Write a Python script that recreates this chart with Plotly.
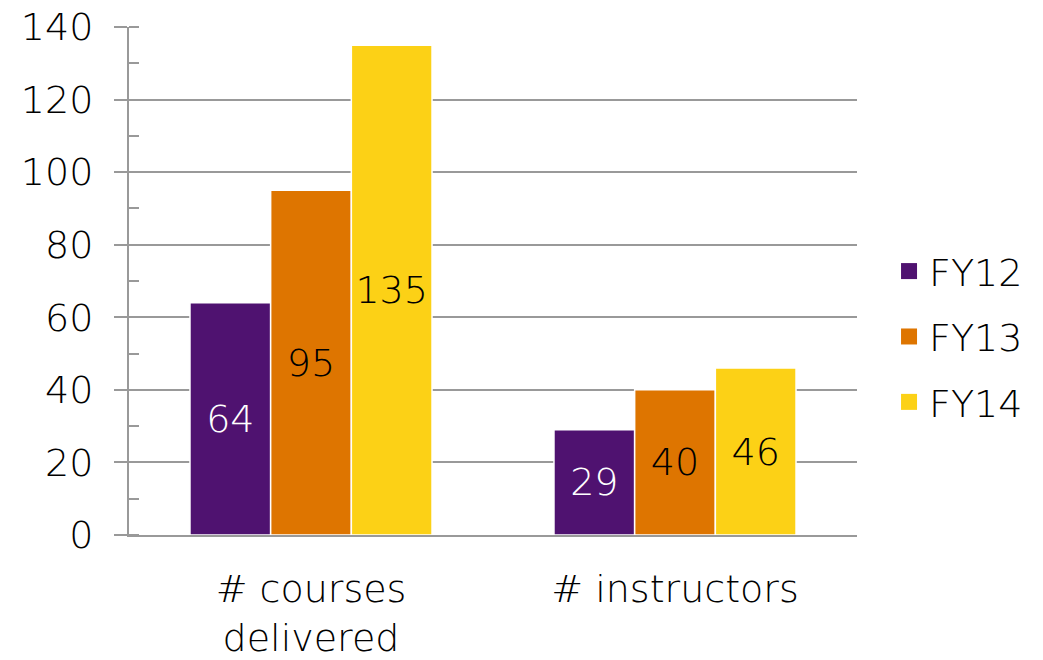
import plotly.graph_objects as go

categories = ["# courses<br>delivered", "# instructors"]
series_names = ["FY12", "FY13", "FY14"]
fy12 = [64, 29]
fy13 = [95, 40]
fy14 = [135, 46]
colors = ["#4F1270", "#DE7500", "#FCD116"]
text_colors = ["white", "black", "black"]

FONT = "DejaVu Sans"
FW = 200
FS = 38
fig = go.Figure()
for i, (name, vals) in enumerate(zip(series_names, [fy12, fy13, fy14])):
    fig.add_trace(go.Bar(
        x=categories, y=vals, name=name, legendgroup=name, showlegend=False,
        marker=dict(color=colors[i], line=dict(color="white", width=1.5)),
        text=[str(v) for v in vals], textposition="inside",
        insidetextanchor="middle", textangle=0,
        textfont=dict(size=FS, color=text_colors[i], family=FONT, weight=FW),
        constraintext="none",
    ))
    fig.add_trace(go.Scatter(
        x=[None], y=[None], mode="markers", name=name, legendgroup=name,
        marker=dict(symbol="square", size=21, color=colors[i]),
        showlegend=True,
    ))

fig.update_layout(
    width=1043, height=660,
    margin=dict(l=129, r=186, t=27, b=125, autoexpand=False),
    paper_bgcolor="white", plot_bgcolor="white",
    font=dict(family=FONT, size=FS, color="black", weight=FW),
    barmode="group", bargap=0.335, bargroupgap=0,
    showlegend=True,
    legend=dict(x=1.044, xanchor="left", y=0.39, yanchor="middle",
                font=dict(size=FS, family=FONT, weight=FW), tracegroupgap=13,
                traceorder="grouped", itemsizing="trace"),
    yaxis=dict(range=[0, 140], dtick=20, showgrid=True, gridcolor="#999999",
               gridwidth=2, showline=True, linecolor="#999999", linewidth=2,
               ticks="outside", ticklen=13, tickcolor="#999999", tickwidth=2,
               zeroline=False, ticklabelstandoff=13, automargin=False,
               ticklabeloverflow="allow",
               minor=dict(dtick=10, ticks="inside", ticklen=10,
                          tickcolor="#999999", tickwidth=2, showgrid=False)),
    xaxis=dict(showline=True, linecolor="#999999", linewidth=2, ticks="",
               showgrid=False, ticklabelstandoff=19, automargin=False,
               ticklabeloverflow="allow"),
)
fig.write_html("out.html", config={"displayModeBar": False},
               post_script="document.body.style.margin='0';document.body.style.overflow='hidden';")
